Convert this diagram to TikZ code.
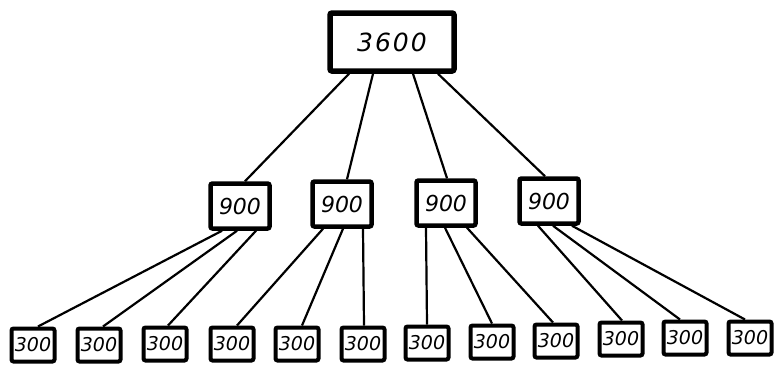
\documentclass[tikz,border=0pt]{standalone}
\usepackage{fontspec}
\newfontfamily\digitfont{DejaVu Sans}
\begin{document}
\begin{tikzpicture}[x=1pt,y=-1pt,
  box/.style={draw=black,fill=white,rounded corners=2pt,inner sep=0pt,align=center},
  topbox/.style={box,line width=5.5pt,minimum width=124pt,minimum height=58pt,
    font={\digitfont\itshape\fontsize{25}{25}\selectfont\addfontfeatures{LetterSpace=8}}},
  midbox/.style={box,line width=4.5pt,minimum width=59pt,minimum height=45pt,
    font={\digitfont\itshape\fontsize{22}{22}\selectfont}},
  leafbox/.style={box,line width=4pt,minimum width=43pt,minimum height=33pt,
    font={\digitfont\itshape\fontsize{19}{19}\selectfont}},
  link/.style={draw=black,line width=2.2pt}]
\useasboundingbox (0,0) rectangle (776,365);

% root
\node[topbox] (root) at (392,42) {3600};

% second level
\node[midbox] (m1) at (240,206) {900};
\node[midbox] (m2) at (342,204) {900};
\node[midbox] (m3) at (446,203) {900};
\node[midbox] (m4) at (549,201) {900};

% leaves
\node[leafbox] (b1)  at (33,345)  {300};
\node[leafbox] (b2)  at (99,345)  {300};
\node[leafbox] (b3)  at (165,344) {300};
\node[leafbox] (b4)  at (232,344) {300};
\node[leafbox] (b5)  at (297,344) {300};
\node[leafbox] (b6)  at (363,344) {300};
\node[leafbox] (b7)  at (427,343) {300};
\node[leafbox] (b8)  at (492,342) {300};
\node[leafbox] (b9)  at (556,341) {300};
\node[leafbox] (b10) at (621,339) {300};
\node[leafbox] (b11) at (685,338) {300};
\node[leafbox] (b12) at (750,338) {300};

% root to second level
\draw[link] ([xshift=-43pt]root.south) -- ([xshift=5pt]m1.north);
\draw[link] ([xshift=-19pt]root.south) -- ([xshift=5pt]m2.north);
\draw[link] ([xshift=21pt]root.south)  -- ([xshift=1pt]m3.north);
\draw[link] ([xshift=46pt]root.south)  -- ([xshift=-4pt]m4.north);

% second level to leaves
\draw[link] ([xshift=-18pt]m1.south) -- ([xshift=5pt]b1.north);
\draw[link] ([xshift=-3pt]m1.south)  -- ([xshift=4pt]b2.north);
\draw[link] ([xshift=16pt]m1.south)  -- ([xshift=3pt]b3.north);

\draw[link] ([xshift=-19pt]m2.south) -- ([xshift=5pt]b4.north);
\draw[link] ([xshift=1pt]m2.south)   -- ([xshift=5pt]b5.north);
\draw[link] ([xshift=21pt]m2.south)  -- ([xshift=1pt]b6.north);

\draw[link] ([xshift=-20pt]m3.south) -- (b7.north);
\draw[link] ([xshift=-1pt]m3.south)  -- (b8.north);
\draw[link] ([xshift=21pt]m3.south)  -- ([xshift=-3pt]b9.north);

\draw[link] ([xshift=-11pt]m4.south) -- ([xshift=1pt]b10.north);
\draw[link] ([xshift=4pt]m4.south)   -- ([xshift=-5pt]b11.north);
\draw[link] ([xshift=23pt]m4.south)  -- ([xshift=-5pt]b12.north);
\end{tikzpicture}
\end{document}
